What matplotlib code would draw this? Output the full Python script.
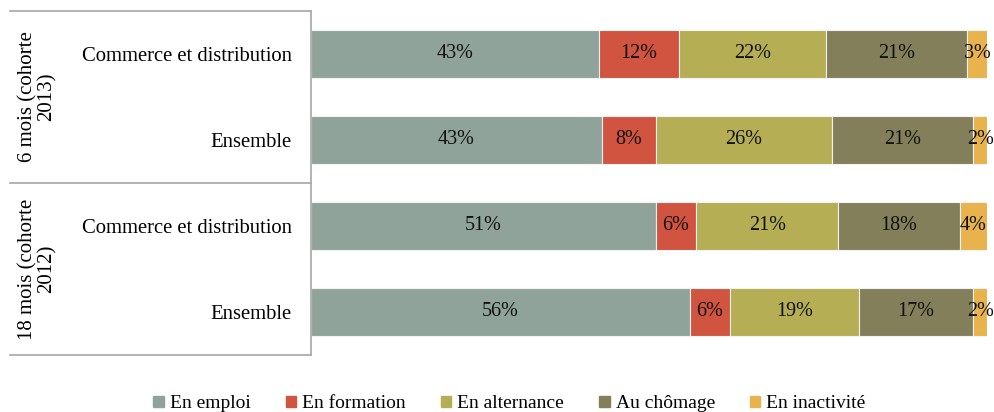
import numpy as np
import matplotlib.pyplot as plt
from matplotlib.lines import Line2D
from matplotlib.patches import Patch

plt.rcParams['font.family'] = ['Liberation Serif', 'DejaVu Serif']

categories = ['Commerce et distribution', 'Ensemble', 'Commerce et distribution', 'Ensemble']
groups = ['6 mois (cohorte\n2013)', '18 mois (cohorte\n2012)']
series = ['En emploi', 'En formation', 'En alternance', 'Au chômage', 'En inactivité']
emploi = [43, 43, 51, 56]
formation = [12, 8, 6, 6]
alternance = [22, 26, 21, 19]
chomage = [21, 21, 18, 17]
inactivite = [3, 2, 4, 2]
colors = ['#8fa39a', '#d0543f', '#b5ae54', '#837f5a', '#e8b24c']

vals = np.array([emploi, formation, alternance, chomage, inactivite], dtype=float)
shares = vals / vals.sum(axis=0) * 100  # 100% stacked

fig = plt.figure(figsize=(9.95, 4.12), dpi=100)
ax = fig.add_axes([311 / 995, 1 - 355 / 412, 676 / 995, 344 / 412])

y = np.arange(len(categories))
left = np.zeros(len(categories))
for i, name in enumerate(series):
    ax.barh(y, shares[i], left=left, height=0.56, color=colors[i],
            edgecolor='#f2f2f2', linewidth=0.8, label=name)
    for j in range(len(categories)):
        ax.text(left[j] + shares[i][j] / 2, y[j], f'{vals[i][j]:.0f}%',
                ha='center', va='center', fontsize=14.5, color='#111111')
    left += shares[i]

ax.set_xlim(0, 100)
ax.set_ylim(3.5, -0.5)
ax.set_xticks([])
ax.set_yticks(y)
ax.set_yticklabels(categories, fontsize=14.9)
ax.tick_params(axis='y', length=0, pad=14)
for s in ['top', 'right', 'bottom']:
    ax.spines[s].set_visible(False)
ax.spines['left'].set_color('#a6a6a6')
ax.spines['left'].set_linewidth(1.2)

# group box on the left
for yy in [11, 183, 355]:
    fig.add_artist(Line2D([10 / 995, 311 / 995], [1 - yy / 412, 1 - yy / 412],
                          color='#a6a6a6', lw=1.2))
for k, g in enumerate(groups):
    yc = 11 + 172 * k + 86
    fig.text(37 / 995, 1 - yc / 412, g, rotation=90, ha='center', va='center',
             multialignment='center', fontsize=15, linespacing=1.0)

handles = [Patch(color=c) for c in colors]
fig.legend(handles, series, loc='center', bbox_to_anchor=(0.512, 1 - 404 / 412),
           ncol=5, frameon=False, fontsize=14, handlelength=0.55, handleheight=0.55,
           handletextpad=0.3, columnspacing=1.8)

fig.savefig('out.png', dpi=100)
